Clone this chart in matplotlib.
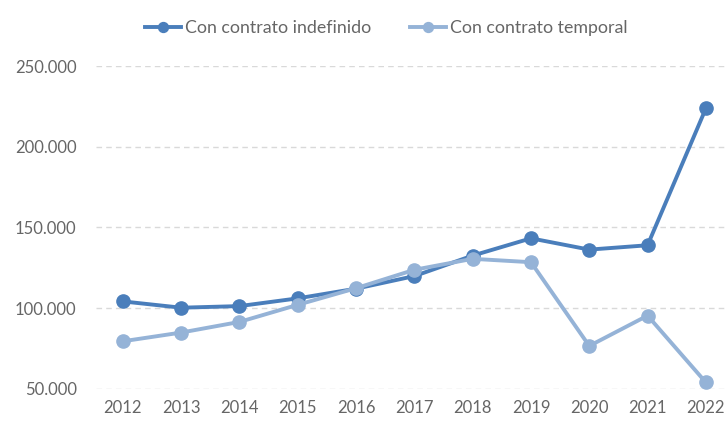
import matplotlib
matplotlib.use("Agg")
import matplotlib.pyplot as plt
from matplotlib.ticker import FuncFormatter

# Data
years = [2012, 2013, 2014, 2015, 2016, 2017, 2018, 2019, 2020, 2021, 2022]
indefinido = [104100, 100200, 101200, 106000, 112000, 119800, 132500, 143200, 136200, 138900, 223700]
temporal = [79400, 84800, 91400, 102000, 112300, 123700, 130500, 128400, 76500, 95300, 53900]
yticks = [50000, 100000, 150000, 200000, 250000]

plt.rcParams["font.family"] = ["Lato", "DejaVu Sans"]

fig = plt.figure(figsize=(7.28, 4.25), dpi=100)
ax = fig.add_axes([0.132, 0.0854, 0.868, 0.7593])

ax.plot(years, indefinido, color="#4a7ebb", lw=2.8, marker="o", ms=9.5,
        label="Con contrato indefinido", clip_on=False, zorder=3)
ax.plot(years, temporal, color="#95b3d7", lw=2.8, marker="o", ms=9.5,
        label="Con contrato temporal", clip_on=False, zorder=3)

ax.set_ylim(50000, 250000)
ax.set_xlim(2011.54, 2022.38)
ax.set_yticks(yticks)
ax.set_xticks(years)
ax.yaxis.set_major_formatter(FuncFormatter(lambda v, p: f"{int(v):,}".replace(",", ".")))
ax.grid(axis="y", color="#d9d9d9", ls=(0, (4, 3)), lw=1)
ax.set_axisbelow(True)
for s in ax.spines.values():
    s.set_visible(False)
ax.tick_params(length=0, colors="#666666", labelsize=12)
ax.tick_params(axis="y", pad=14)
ax.tick_params(axis="x", pad=8)

fig.legend(loc="upper center", bbox_to_anchor=(0.531, 0.99), ncol=2, frameon=False,
           fontsize=12.8, labelcolor="#666666", handlelength=2.0, handletextpad=0.25,
           columnspacing=2.2, markerscale=0.75)

fig.savefig("out.png", dpi=100)
